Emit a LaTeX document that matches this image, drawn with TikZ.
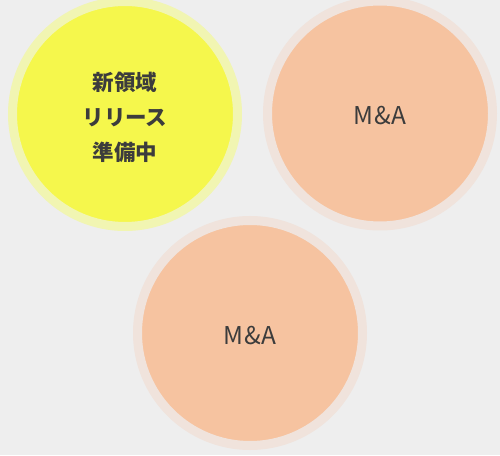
\documentclass[tikz,border=0pt]{standalone}
\usepackage{fontspec}
\setmainfont{Noto Sans CJK JP}
\newfontfamily\jpfont{Noto Sans CJK JP}
\newfontfamily\mafont[LetterSpace=3]{Noto Sans CJK JP}
\definecolor{bg}{HTML}{EEEEEE}
\definecolor{yel}{HTML}{F5F74C}
\definecolor{yelhalo}{HTML}{F1F5B2}
\definecolor{ora}{HTML}{F6C3A0}
\definecolor{orahalo}{HTML}{F0E3DC}
\definecolor{txt}{HTML}{3C3C3C}
\tikzset{
  bubble/.style={circle, inner sep=0pt, minimum size=225pt, line width=9pt},
  yelbubble/.style={bubble, fill=yel, draw=yelhalo},
  orabubble/.style={bubble, fill=ora, draw=orahalo},
  jptext/.style={text=txt, align=center, inner sep=0pt, font=\jpfont\bfseries\fontsize{21.5}{35}\selectfont},
  matext/.style={text=txt, inner sep=0pt, font=\mafont\fontsize{24.5}{28}\selectfont},
}
\begin{document}
\begin{tikzpicture}[x=1pt,y=1pt]
\fill[bg] (0,0) rectangle (500,455);
\useasboundingbox (0,0) rectangle (500,455);
\node[yelbubble] (a) at (125,341) {};
\node[orabubble] (b) at (380,341.5) {};
\node[orabubble] (c) at (250,122) {};
\node[jptext] (at) at ([yshift=-3pt]a.center) {新領域\\リリース\\準備中};
\node[matext] (bt) at ([yshift=-2.5pt]b.center) {M\&A};
\node[matext] (ct) at ([yshift=-3pt]c.center) {M\&A};
\end{tikzpicture}
\end{document}
